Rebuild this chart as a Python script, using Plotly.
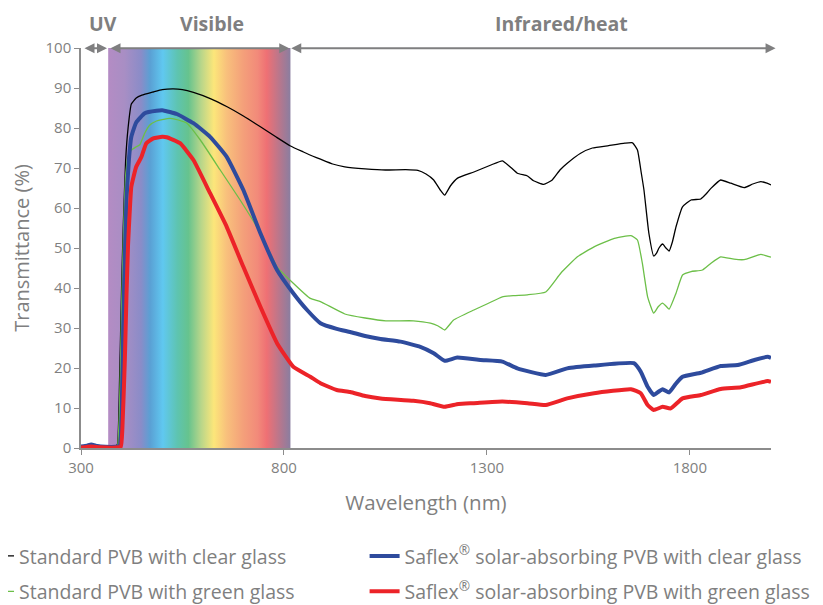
import plotly.graph_objects as go

# ---------------- data ----------------
# Standard PVB with clear glass
wl_std_clear = [300, 320, 340, 360, 385, 390, 395, 400, 404, 410, 416, 424, 436, 450, 478, 500,
                527, 550, 577, 620, 660, 700, 742, 780, 816, 848, 870, 890, 920, 950, 1000,
                1050, 1100, 1130, 1150, 1169, 1185, 1196, 1210, 1227, 1268, 1310, 1338, 1355,
                1375, 1400, 1415, 1440, 1461, 1480, 1498, 1531, 1560, 1600, 1640, 1659, 1671,
                1680, 1687, 1699, 1711, 1718, 1724, 1733, 1741, 1749, 1757, 1766, 1782, 1803,
                1827, 1840, 1852, 1876, 1901, 1934, 1955, 1975, 1990, 2000]
t_std_clear = [0.2, 0.4, 0.2, 0.1, 0.3, 1, 17, 40, 55, 72, 80, 86, 87.5, 88.2, 89, 89.6,
               89.8, 89.6, 88.9, 87.3, 85.3, 83, 80.3, 77.8, 75.5, 74, 73, 72.2, 71, 70.3, 69.8,
               69.5, 69.6, 69.4, 68.5, 67, 64.5, 63.2, 65.5, 67.4, 69, 70.75, 71.8, 70.5,
               68.7, 68, 66.8, 65.9, 67, 69.5, 71.2, 73.7, 75, 75.6, 76.2, 76.3, 74.5,
               69, 64.5, 53.75, 48, 48.7, 50, 51, 50, 49.25, 51.5, 55.3, 60.3, 62,
               62.25, 63.5, 64.9, 67, 66.2, 65.1, 66, 66.6, 66.2, 65.75]

# Standard PVB with green glass
wl_std_green = [300, 385, 390, 395, 400, 405, 410, 416, 424, 436, 445, 457, 469, 486, 500, 520,
                540, 561, 594, 643, 692, 742, 783, 823, 865, 890, 950, 1000, 1051, 1119, 1161,
                1180, 1196, 1218, 1268, 1300, 1338, 1366, 1400, 1445, 1482, 1523, 1564, 1614,
                1655, 1671, 1683, 1696, 1711, 1722, 1733, 1741, 1749, 1766, 1782, 1803, 1831,
                1852, 1876, 1909, 1934, 1975, 2000]
t_std_green = [0, 0, 0.5, 10, 35, 55, 68, 73, 74.5, 75.3, 75.8, 78.7, 80.7, 81.75, 82.1, 82.4,
               82, 81.2, 77, 69.5, 62, 53.75, 45.3, 41.2, 37.4, 36.6, 33.5, 32.5, 31.8, 31.8, 31.2,
               30.5, 29.5, 32, 34.5, 36, 37.8, 38.1, 38.3, 39, 43.7, 47.8, 50.3, 52.4,
               53.1, 52, 46.2, 37.8, 33.7, 35.3, 36.2, 35.5, 34.7, 38.7, 43.25, 44.1, 44.5,
               46.2, 47.8, 47.2, 47.1, 48.4, 47.7]

# Saflex solar-absorbing PVB with clear glass
wl_saf_clear = [300, 315, 325, 340, 360, 385, 395, 400, 404, 408, 412, 418, 424, 436, 457, 486,
                503, 536, 577, 618, 659, 700, 742, 783, 823, 857, 890, 930, 963, 1000, 1038,
                1087, 1136, 1169, 1196, 1227, 1284, 1338, 1375, 1445, 1498, 1564, 1662, 1679,
                1696, 1711, 1722, 1733, 1749, 1765, 1782, 1827, 1876, 1918, 1959, 1992, 2000]
t_saf_clear = [0.4, 0.6, 0.9, 0.5, 0.3, 0.3, 0.5, 8, 30, 48, 62, 72, 77.8, 81.4, 83.7, 84.3,
               84.4, 83.5, 81.2, 77.8, 72.8, 64.5, 53.7, 44.5, 38.7, 34.5, 31.2, 29.8, 29, 28, 27.25,
               26.6, 25.3, 23.7, 21.8, 22.6, 22, 21.6, 19.9, 18.25, 19.9, 20.6, 21.2, 19.1,
               15.3, 13.25, 14, 14.7, 13.9, 16, 17.8, 18.8, 20.5, 20.75, 22, 22.8, 22.5]

# Saflex solar-absorbing PVB with green glass
wl_saf_green = [300, 325, 345, 385, 398, 402, 408, 412, 416, 420, 424, 436, 449, 461, 478, 500,
                511, 544, 577, 618, 659, 700, 742, 783, 823, 865, 890, 930, 963, 1000, 1038,
                1119, 1160, 1196, 1230, 1268, 1338, 1400, 1445, 1498, 1564, 1655, 1679, 1696,
                1711, 1733, 1753, 1782, 1827, 1876, 1926, 1992, 2000]
t_saf_green = [0.1, 0.4, 0.2, 0.1, 0.3, 5, 22, 38, 51, 59, 65.3, 70.3, 72.8, 76.2, 77.4, 77.8,
               77.7, 76.2, 72, 63.7, 55.3, 45.3, 35.3, 26.2, 20.3, 17.8, 16.2, 14.5, 14, 13, 12.4,
               11.8, 11.2, 10.3, 11, 11.2, 11.6, 11.2, 10.75, 12.4, 13.7, 14.7, 13.7, 10.75,
               9.5, 10.3, 9.9, 12.4, 13.25, 14.75, 15.2, 16.75, 16.5]

series_names = ["Standard PVB with clear glass",
                "Standard PVB with green glass",
                "Saflex<sup>®</sup> solar-absorbing PVB with clear glass",
                "Saflex<sup>®</sup> solar-absorbing PVB with green glass"]

# visible band (nm) and region arrows (nm): (head, tail) — heads kept inside the axis range
band_nm = [367, 816]
band_top = [100, 100]
region_labels = ["UV", "Visible", "Infrared/heat"]
region_label_nm = [353, 623, 1484]
region_arrows_nm = [(364, 305), (813, 369), (818, 2015)]
arrow_level = 99.95

x_ticks = [300, 800, 1300, 1800]

# ---------------- styling ----------------
GREY = "#7f7f80"
AXIS = "#8c8c8c"
FONT = "Open Sans"

spectrum_scale = [
    [0.00, "#b48cc4"], [0.09, "#a88ec4"], [0.18, "#8a8cc8"], [0.23, "#5aa0d4"],
    [0.30, "#60c8f0"], [0.38, "#5ec4b0"], [0.44, "#66c38e"], [0.51, "#b8d68a"],
    [0.58, "#fce67a"], [0.65, "#f8c07c"], [0.74, "#f4a07a"], [0.82, "#f28a7a"],
    [0.87, "#ef7074"], [0.95, "#b07890"], [1.00, "#8a7ea0"],
]

fig = go.Figure()

fig.add_trace(go.Scatter(
    x=band_nm, y=band_top, mode="none", fill="tozeroy",
    fillgradient=dict(type="horizontal", colorscale=spectrum_scale),
    showlegend=False, hoverinfo="skip"))

curves = [
    (wl_std_clear, t_std_clear, series_names[0], "#000000", 1.3, "legend", "a"),
    (wl_std_green, t_std_green, series_names[1], "#6cbf48", 1.3, "legend", "b"),
    (wl_saf_clear, t_saf_clear, series_names[2], "#2e4b9d", 4, "legend2", "c"),
    (wl_saf_green, t_saf_green, series_names[3], "#ec2328", 4, "legend2", "d"),
]
for xs, ys, name, color, w, lg, grp in curves:
    fig.add_trace(go.Scatter(x=xs, y=ys, name=name, mode="lines",
                             line=dict(color=color, width=w, shape="spline", smoothing=0.4),
                             legend=lg, legendgroup=grp))

# region arrows and labels
for (head, tail) in region_arrows_nm:
    fig.add_annotation(x=head, y=arrow_level, ax=tail, ay=arrow_level,
                       xref="x", yref="y", axref="x", ayref="y",
                       text="", showarrow=True, arrowhead=2, startarrowhead=2,
                       arrowside="end+start", arrowsize=1, startarrowsize=1,
                       arrowwidth=2, arrowcolor=GREY, standoff=0, startstandoff=0)
for lab, xnm in zip(region_labels, region_label_nm):
    fig.add_annotation(x=xnm, y=1.0625, xref="x", yref="paper", text="<b>%s</b>" % lab,
                       showarrow=False, font=dict(family=FONT, size=19.5, color=GREY),
                       xanchor="center", yanchor="middle")

legend_common = dict(orientation="v", xanchor="left", yanchor="top",
                     bgcolor="rgba(0,0,0,0)", borderwidth=0, tracegroupgap=7,
                     font=dict(family=FONT, size=19.5, color=GREY), itemwidth=30)
# the page adds an 8px body margin, so the figure is 8px smaller and margins shifted by 8px
fig.update_layout(
    width=815, height=597,
    margin=dict(l=73, r=52, t=40, b=157, autoexpand=False),
    paper_bgcolor="white", plot_bgcolor="white",
    font=dict(family=FONT, color=GREY),
    showlegend=True,
    legend=dict(x=-0.1478, y=-0.222, **legend_common),
    legend2=dict(x=0.411, y=-0.222, **legend_common),
    xaxis=dict(range=[300, 2000], tickvals=x_ticks, ticks="outside", ticklen=5,
               tickcolor=AXIS, tickwidth=1.2, showline=True, linecolor=AXIS, linewidth=1.5,
               showgrid=False, zeroline=False, automargin=False,
               tickfont=dict(family=FONT, size=15, color=GREY),
               title=dict(text="Wavelength (nm)", font=dict(family=FONT, size=20.5, color=GREY),
                          standoff=20)),
    yaxis=dict(range=[0, 100], dtick=10, ticks="outside", ticklen=5,
               tickcolor=AXIS, tickwidth=1.2, showline=True, linecolor=AXIS, linewidth=1.5,
               showgrid=False, zeroline=False, automargin=False,
               tickfont=dict(family=FONT, size=15, color=GREY),
               title=dict(text="Transmittance (%)", font=dict(family=FONT, size=20, color=GREY),
                          standoff=12)),
)

fig.write_html("out.html")
